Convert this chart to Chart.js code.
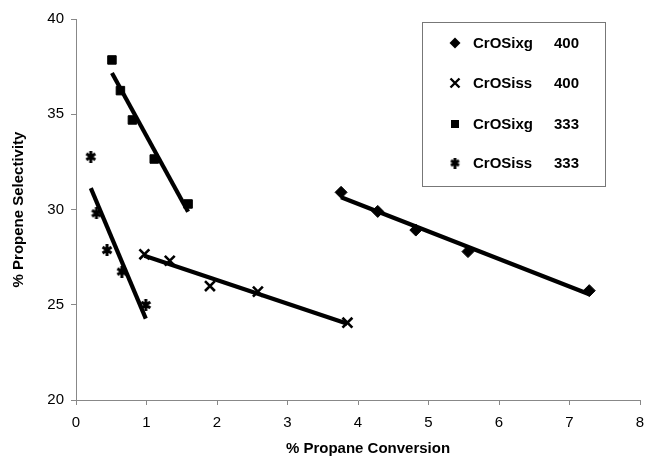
<!DOCTYPE html>
<html>
<head>
<meta charset="utf-8">
<script src="https://cdn.jsdelivr.net/npm/chart.js@4/dist/chart.umd.min.js"></script>
<style>
  html, body { margin: 0; padding: 0; background: #fff; }
  #wrap { width: 645px; height: 458px; position: relative; }
</style>
</head>
<body>
<div id="wrap"><canvas id="c" width="645" height="458"></canvas></div>
<script>
// Conversion (%) and selectivity (%) for each catalyst / temperature series
const xgHotX  = [3.76, 4.28, 4.82, 5.56, 7.28];
const xgHotY  = [30.9, 29.9, 28.92, 27.79, 25.74];
const ssHotX  = [0.97, 1.33, 1.90, 2.58, 3.85];
const ssHotY  = [27.65, 27.31, 25.98, 25.69, 24.06];
const xgColdX = [0.51, 0.63, 0.80, 1.11, 1.59];
const xgColdY = [37.85, 36.24, 34.7, 32.65, 30.29];
const ssColdX = [0.21, 0.29, 0.44, 0.65, 0.99];
const ssColdY = [32.77, 29.8, 27.87, 26.74, 24.99];

const seriesNames = ['CrOSixg', 'CrOSiss', 'CrOSixg', 'CrOSiss'];
const seriesTemps = ['400', '400', '333', '333'];

const xTicks = [0, 1, 2, 3, 4, 5, 6, 7, 8];
const yTicks = [20, 25, 30, 35, 40];
const xTitle = '% Propane Conversion';
const yTitle = '% Propene Selectivity';

const FONT = '"Liberation Sans", Arial, sans-serif';

function pts(xs, ys) { return xs.map((x, i) => ({ x: x, y: ys[i] })); }

// least-squares trendline across the range of a series
function fit(xs, ys) {
  const n = xs.length;
  const mx = xs.reduce((a, b) => a + b, 0) / n;
  const my = ys.reduce((a, b) => a + b, 0) / n;
  let sxy = 0, sxx = 0;
  for (let i = 0; i < n; i++) { sxy += (xs[i] - mx) * (ys[i] - my); sxx += (xs[i] - mx) ** 2; }
  const m = sxy / sxx, b = my - m * mx;
  const x0 = Math.min(...xs), x1 = Math.max(...xs);
  return [{ x: x0, y: m * x0 + b }, { x: x1, y: m * x1 + b }];
}

// six-armed asterisk marker: an X with a vertical bar
function asteriskMarker(size, lw) {
  const c = document.createElement('canvas');
  c.width = size; c.height = size;
  const g = c.getContext('2d');
  g.strokeStyle = '#000'; g.lineWidth = lw; g.lineCap = 'butt';
  const p = 1.5, s = size;
  g.beginPath();
  g.moveTo(p, p + 1.5); g.lineTo(s - p, s - p - 1.5);
  g.moveTo(s - p, p + 1.5); g.lineTo(p, s - p - 1.5);
  g.moveTo(s / 2, 0); g.lineTo(s / 2, s);
  g.stroke();
  return c;
}
const star = asteriskMarker(12, 3);
const starSmall = asteriskMarker(11, 2.8);

const markerStyles = [
  { pointStyle: 'rectRot', radius: 6, borderWidth: 1 },
  { pointStyle: 'crossRot', radius: 7, borderWidth: 2.6 },
  { pointStyle: 'rect', radius: 6, borderWidth: 1 },
  { pointStyle: star, radius: 6, borderWidth: 1 }
];

const groups = [[xgHotX, xgHotY], [ssHotX, ssHotY], [xgColdX, xgColdY], [ssColdX, ssColdY]];

const datasets = [];
groups.forEach((g, i) => {
  datasets.push({
    type: 'line',
    label: 'trend' + i,
    data: fit(g[0], g[1]),
    showLine: true,
    borderColor: '#000',
    borderWidth: 4.2,
    pointRadius: 0,
    fill: false,
    order: 1
  });
});
groups.forEach((g, i) => {
  const m = markerStyles[i];
  datasets.push({
    type: 'scatter',
    label: seriesNames[i] + '   ' + seriesTemps[i],
    data: pts(g[0], g[1]),
    showLine: false,
    pointStyle: m.pointStyle,
    pointRadius: m.radius,
    pointBorderWidth: m.borderWidth,
    pointBackgroundColor: '#000',
    pointBorderColor: '#000',
    order: 0
  });
});

// boxed legend inside the plot's upper right, plus the x-axis caption
const boxLegend = {
  id: 'boxLegend',
  afterDraw(chart) {
    const ctx = chart.ctx;
    ctx.save();
    ctx.strokeStyle = '#777';
    ctx.lineWidth = 1;
    ctx.strokeRect(422.5, 22.5, 183, 164);
    const rows = [43, 83, 124, 163];
    ctx.font = 'bold 15px ' + FONT;
    ctx.fillStyle = '#000';
    ctx.textBaseline = 'middle';
    rows.forEach((y, i) => {
      const mx = 455;
      ctx.fillStyle = '#000'; ctx.strokeStyle = '#000';
      if (i === 0) {
        ctx.beginPath();
        ctx.moveTo(mx, y - 5.5); ctx.lineTo(mx + 5.5, y); ctx.lineTo(mx, y + 5.5); ctx.lineTo(mx - 5.5, y);
        ctx.closePath(); ctx.fill();
      } else if (i === 1) {
        ctx.lineWidth = 2.4;
        ctx.beginPath();
        ctx.moveTo(mx - 4.5, y - 4.5); ctx.lineTo(mx + 4.5, y + 4.5);
        ctx.moveTo(mx + 4.5, y - 4.5); ctx.lineTo(mx - 4.5, y + 4.5);
        ctx.stroke();
      } else if (i === 2) {
        ctx.fillRect(mx - 4, y - 4, 8, 8);
      } else {
        ctx.drawImage(starSmall, mx - 5.5, y - 5.5);
      }
      ctx.fillText(seriesNames[i], 473, y + 1);
      ctx.fillText(seriesTemps[i], 554, y + 1);
    });
    ctx.textAlign = 'center';
    ctx.fillText(xTitle, 368, 449);
    ctx.restore();
  }
};

new Chart(document.getElementById('c'), {
  type: 'scatter',
  data: { datasets: datasets },
  plugins: [boxLegend],
  options: {
    responsive: false,
    animation: false,
    events: [],
    layout: { autoPadding: false, padding: { top: 19, right: 5, left: 0, bottom: 0 } },
    plugins: { legend: { display: false }, tooltip: { enabled: false } },
    scales: {
      x: {
        type: 'linear',
        min: 0, max: 8,
        afterBuildTicks(s) { s.ticks = xTicks.map(v => ({ value: v })); },
        afterFit(s) { s.height = 58; s.paddingLeft = 0; s.paddingRight = 0; },
        border: { display: true, color: '#888', width: 1 },
        grid: { drawOnChartArea: false, drawTicks: true, tickLength: 5, color: '#888' },
        ticks: { color: '#000', padding: 9, font: { family: FONT, size: 15 } }
      },
      y: {
        type: 'linear',
        min: 20, max: 40,
        afterBuildTicks(s) { s.ticks = yTicks.map(v => ({ value: v })); },
        afterFit(s) { s.width = 76; s.paddingTop = 0; s.paddingBottom = 0; },
        border: { display: true, color: '#888', width: 1 },
        grid: { drawOnChartArea: false, drawTicks: true, tickLength: 5, color: '#888' },
        ticks: { color: '#000', padding: 7, font: { family: FONT, size: 15 } },
        title: {
          display: true, text: yTitle, color: '#000',
          font: { family: FONT, size: 15, weight: 'bold' },
          padding: { top: 10, bottom: 0 }
        }
      }
    }
  }
});
</script>
</body>
</html>
